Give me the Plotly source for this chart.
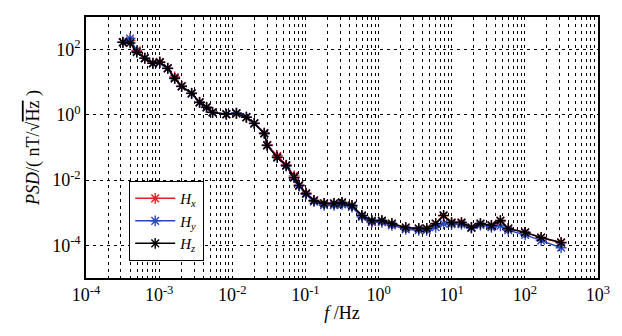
import plotly.graph_objects as go

# frequencies (Hz)
freq = [3.19e-4, 4.0e-4, 4.95e-4, 6.36e-4, 8.2e-4, 1.02e-3, 1.31e-3, 1.63e-3, 2.03e-3, 2.78e-3,
        3.57e-3, 4.45e-3, 5.37e-3, 8.3e-3, 1.14e-2, 1.56e-2, 2.0e-2, 2.74e-2, 3.0e-2, 4.12e-2,
        5.46e-2, 7.0e-2, 8.2e-2, 0.102, 0.131, 0.180, 0.246, 0.316, 0.433, 0.592,
        0.81, 1.11, 1.52, 2.35, 3.54, 4.55, 6.03, 7.74, 9.95, 13.6,
        18.6, 24.7, 34.9, 46.3, 59.4, 101, 167, 313]

psd_hx = [170, 190, 95, 56, 39, 42, 27, 14.5, 7.6, 4.6,
          2.45, 1.72, 1.2, 1.05, 1.1, 0.85, 0.56, 0.28, 0.12, 0.056,
          0.029, 0.0135, 0.0070, 0.0040, 0.0024, 0.00195, 0.00192, 0.00205, 0.00165, 8.0e-4,
          5.2e-4, 5.5e-4, 4.6e-4, 3.5e-4, 3.3e-4, 3.3e-4, 4.6e-4, 8.0e-4, 5.0e-4, 5.0e-4,
          3.55e-4, 4.6e-4, 4.1e-4, 5.6e-4, 3.3e-4, 2.5e-4, 1.72e-4, 1.2e-4]

psd_hy = [168, 220, 88, 55, 38, 40, 26.5, 13.0, 7.4, 4.5,
          2.4, 1.68, 1.18, 1.06, 1.14, 0.86, 0.54, 0.27, 0.115, 0.049,
          0.027, 0.0118, 0.0066, 0.0037, 0.0022, 0.0017, 0.0017, 0.0018, 0.0015, 7.4e-4,
          5.2e-4, 5.1e-4, 4.1e-4, 3.1e-4, 2.9e-4, 2.9e-4, 3.6e-4, 4.6e-4, 4.5e-4, 4.4e-4,
          3.4e-4, 4.2e-4, 3.6e-4, 4.0e-4, 2.9e-4, 2.1e-4, 1.4e-4, 8.5e-5]

psd_hz = [167, 160, 83, 54, 38, 41, 26.7, 13.2, 7.5, 4.57,
          2.42, 1.70, 1.19, 1.04, 1.11, 0.84, 0.55, 0.27, 0.116, 0.050,
          0.0282, 0.0121, 0.00688, 0.0039, 0.00238, 0.00193, 0.00193, 0.00207, 0.00167, 8.3e-4,
          5.8e-4, 5.8e-4, 4.7e-4, 3.54e-4, 3.3e-4, 3.3e-4, 4.7e-4, 8.3e-4, 5.0e-4, 5.0e-4,
          3.54e-4, 4.7e-4, 4.1e-4, 5.8e-4, 3.3e-4, 2.5e-4, 1.75e-4, 1.23e-4]

series = [("<i>H</i><sub><i>x</i></sub>", psd_hx, "#ee1c24"),
          ("<i>H</i><sub><i>y</i></sub>", psd_hy, "#2a48c0"),
          ("<i>H</i><sub><i>z</i></sub>", psd_hz, "#000000")]

x_major = [1e-4, 1e-3, 1e-2, 1e-1, 1e0, 1e1, 1e2, 1e3]
x_major_text = ["10<sup>-4</sup>", "10<sup>-3</sup>", "10<sup>-2</sup>", "10<sup>-1</sup>",
                "10<sup>0</sup>", "10<sup>1</sup>", "10<sup>2</sup>", "10<sup>3</sup>"]
y_major = [1e-4, 1e-2, 1e0, 1e2]
y_major_text = ["10<sup>-4</sup>", "10<sup>-2</sup>", "10<sup>0</sup>", "10<sup>2</sup>"]

# x grid at every 1..9 multiple of each decade
x_grid = []
x_grid_text = []
for i, d in enumerate(x_major[:-1]):
    for m in range(1, 10):
        x_grid.append(d * m)
        x_grid_text.append(x_major_text[i] if m == 1 else "")
x_grid.append(x_major[-1])
x_grid_text.append(x_major_text[-1])

fig = go.Figure()
for name, vals, col in series:
    fig.add_trace(go.Scatter(
        x=freq, y=vals, name=name, mode="lines+markers",
        line=dict(color=col, width=1.5),
        marker=dict(symbol="asterisk-open", size=9, color=col, line=dict(color=col, width=1.4)),
    ))

font = dict(family="Liberation Serif, Times New Roman, serif", size=18, color="black")

fig.update_layout(
    width=622, height=336,
    margin=dict(l=86, r=22, t=17, b=58),
    paper_bgcolor="white", plot_bgcolor="white",
    font=font,
    showlegend=True,
    legend=dict(x=0.084, y=0.372, xanchor="left", yanchor="top",
                bgcolor="white", bordercolor="black", borderwidth=1.2,
                font=dict(family="Liberation Serif, serif", size=15, color="black"),
                tracegroupgap=0, itemwidth=40),
    xaxis=dict(type="log", range=[-4, 3],
               tickmode="array", tickvals=x_grid, ticktext=x_grid_text,
               showgrid=True, gridcolor="black", griddash="3px,4px", gridwidth=1,
               showline=True, linecolor="black", linewidth=1.5, mirror=True,
               ticks="", zeroline=False,
               title=dict(text="<i>f</i> /Hz", standoff=2, font=font)),
    yaxis=dict(type="log", range=[-5, 3],
               tickmode="array", tickvals=y_major, ticktext=y_major_text,
               showgrid=True, gridcolor="black", griddash="3px,4px", gridwidth=1,
               showline=True, linecolor="black", linewidth=1.5, mirror=True,
               ticks="", zeroline=False,
               title=dict(text="<i>PSD</i>/( nT/\u221a<span style='text-decoration:overline'>Hz</span> )",
                          standoff=8, font=font)),
)

fig.write_html("out.html")
